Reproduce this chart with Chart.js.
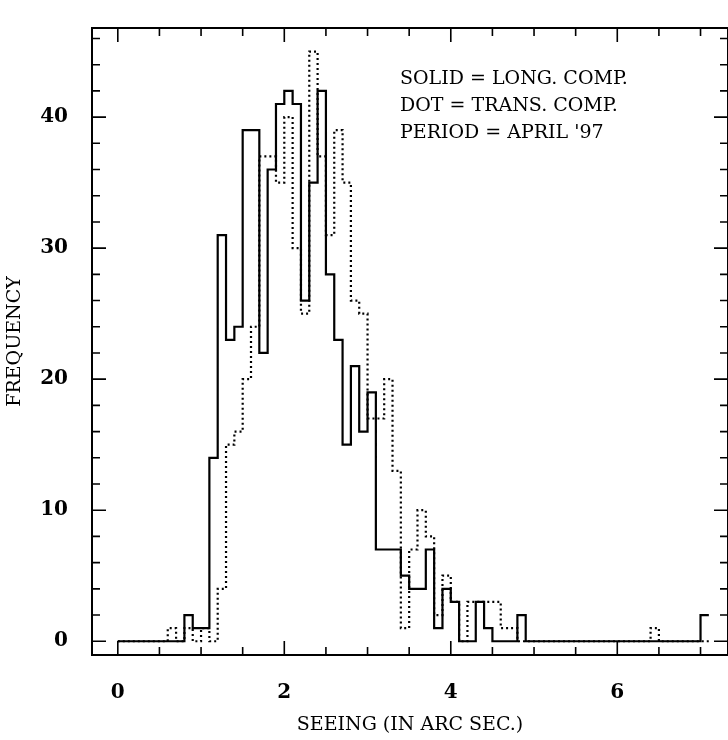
<!DOCTYPE html>
<html><head><meta charset="utf-8">
<script src="https://cdn.jsdelivr.net/npm/chart.js@4.4.1/dist/chart.umd.min.js"></script>
<style>html,body{margin:0;background:#fff}#wrap{width:728px;height:740px}</style>
</head><body><div id="wrap"><canvas id="c" width="728" height="740"></canvas></div>
<script>
// bin starts, width 0.1
const binStart = 0.0, binWidth = 0.1;
// solid = longitudinal component, bins from 0.0 to 7.1
const solid = [0,0,0,0,0,0,0,0,2,1, 1,14,31,23,24,39,39,22,36,41,
  42,41,26,35,42,28,23,15,21,16, 19,7,7,7,5,4,4,7,1,4,
  3,0,0,3,1,0,0,0,2,0, 0,0,0,0,0,0,0,0,0,0, 0,0,0,0,0,0,0,0,0,0,
  2];
// dotted = transverse component
const dotted = [0,0,0,0,0,0,1,0,1,0, 1,0,4,15,16,20,24,37,37,35,
  40,30,25,45,37,31,39,35,26,25, 17,17,20,13,1,7,10,8,2,5,
  3,0,3,3,3,3,1,1,0,0, 0,0,0,0,0,0,0,0,0,0, 0,0,0,0,1,0,0,0,0,0,
  0];
const xLabels = [0,2,4,6];
const legendLines = ["SOLID = LONG. COMP.", "DOT = TRANS. COMP.", "PERIOD = APRIL '97"];

// one point per bin start plus the closing edge
function steps(vals){
  const pts = vals.map((v,i)=>({x: +(binStart+i*binWidth).toFixed(2), y: v}));
  pts.push({x: +(binStart+vals.length*binWidth).toFixed(2), y: vals[vals.length-1]});
  return pts;
}
const FONT = "'DejaVu Serif', serif";

const frame = {
  id:'frame',
  afterDraw(ch){
    const {ctx, chartArea:a, scales:{x,y}} = ch;
    ctx.save(); ctx.strokeStyle='#000'; ctx.lineWidth=2;
    ctx.strokeRect(a.left, a.top, a.right-a.left, a.bottom-a.top);
    ctx.lineWidth=1.6;
    for(let v=0; v<=7.01; v+=0.5){
      const p = x.getPixelForValue(v), L = (Math.abs(v%2)<1e-6)?14:8;
      ctx.beginPath(); ctx.moveTo(p,a.bottom); ctx.lineTo(p,a.bottom-L);
      ctx.moveTo(p,a.top); ctx.lineTo(p,a.top+L); ctx.stroke();
    }
    for(let v=0; v<=46; v+=2){
      const p = y.getPixelForValue(v), L = (v%10===0)?14:8;
      ctx.beginPath(); ctx.moveTo(a.left,p); ctx.lineTo(a.left+L,p);
      ctx.moveTo(a.right,p); ctx.lineTo(a.right-L,p); ctx.stroke();
    }
    ctx.fillStyle='#000'; ctx.font="19px "+FONT; ctx.textBaseline='alphabetic';
    legendLines.forEach((t,i)=>ctx.fillText(t, 400, 84+i*27));
    ctx.restore();
  }
};

new Chart(document.getElementById('c'), {
  type:'line',
  data:{ datasets:[
    { data: steps(solid), stepped:'before', borderColor:'#000', borderWidth:2.2, pointRadius:0, fill:false },
    { data: steps(dotted), stepped:'before', borderColor:'#000', borderWidth:2.2, borderDash:[2,3], pointRadius:0, fill:false }
  ]},
  options:{
    responsive:false, animation:false,
    layout:{padding:{top:18,right:0,left:0,bottom:0}},
    plugins:{legend:{display:false}, tooltip:{enabled:false}},
    scales:{
      x:{ type:'linear', min:-0.31, max:7.33,
        afterBuildTicks(s){ s.ticks = xLabels.map(v=>({value:v})); },
        afterFit(s){ s.height = 85; },
        grid:{display:false}, border:{display:false},
        ticks:{ color:'#000', padding:18, font:{family:FONT, size:20, weight:'bold'} },
        title:{ display:true, text:'SEEING (IN ARC SEC.)', color:'#000', padding:{top:4}, font:{family:FONT, size:19} } },
      y:{ min:-1.05, max:46.8,
        afterBuildTicks(s){ s.ticks = [0,10,20,30,40].map(v=>({value:v})); },
        afterFit(s){ s.width = 92; },
        grid:{display:false}, border:{display:false},
        ticks:{ color:'#000', padding:16, font:{family:FONT, size:20, weight:'bold'} },
        title:{ display:true, text:'FREQUENCY', color:'#000', padding:{bottom:8}, font:{family:FONT, size:19} } }
    }
  },
  plugins:[frame]
});
</script></body></html>
